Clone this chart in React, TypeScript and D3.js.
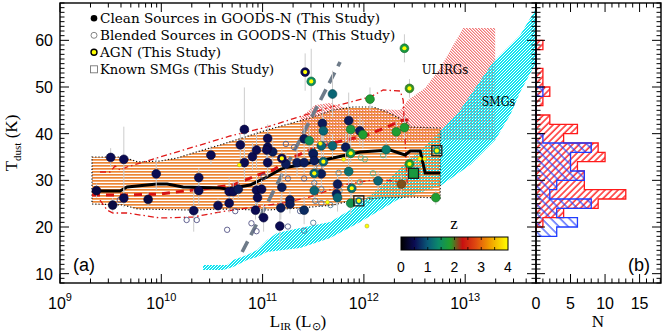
import React from "react";
import * as d3 from "d3";

// [log10 L_IR, T_dust (K), z, dT]
const cleanSources = [
  [9.36, 27.8, 0.4, 1.5], [9.5, 34.9, 0.5, 2], [9.52, 24.7, 0.4, 1.5], [9.63, 34.5, 0.5, 7],
  [9.63, 26.2, 0.5, 2], [9.87, 25.9, 0.4, 1.5], [9.95, 31.4, 0.5, 3.5], [10.32, 23.5, 0.5, 4.5],
  [10.37, 30.6, 0.5, 2], [10.37, 27.8, 0.5, 3], [10.49, 35.4, 0.5, 2], [10.56, 24.6, 0.5, 1.5],
  [10.67, 27.6, 0.5, 3], [10.67, 25.1, 0.5, 2], [10.71, 27.6, 0.5, 2], [10.76, 28.1, 0.6, 2],
  [10.82, 33.8, 0.5, 4], [10.9, 35.1, 0.5, 3], [10.94, 36.5, 0.5, 4], [11.1, 36.1, 0.6, 3],
  [11.05, 33.8, 0.5, 3], [11.23, 33.5, 0.6, 2.5], [11.34, 33.8, 0.6, 3], [11.41, 33.8, 0.6, 2.5],
  [11.58, 31.4, 0.6, 3], [11.74, 29.2, 0.6, 2], [11.73, 27.1, 0.6, 2.5], [10.94, 27.9, 0.5, 3],
  [10.99, 28.1, 0.5, 2], [10.95, 26.3, 0.5, 2], [11.19, 28.5, 0.6, 3], [11.27, 25.8, 0.6, 2],
  [11.27, 24.9, 0.6, 2], [11.18, 24.1, 0.6, 2.5], [10.93, 23.6, 0.5, 2], [11.01, 22.0, 0.5, 3],
  [11.17, 20.2, 0.5, 4], [11.41, 23.6, 0.7, 3], [11.51, 27.8, 1.1, 2.5], [11.5, 35.8, 1.1, 2.5],
  [10.82, 40.9, 0.5, 9], [10.78, 37.6, 0.5, 3], [11.05, 39.0, 0.5, 3], [11.05, 37.1, 0.5, 2.5],
  [11.04, 36.5, 0.5, 2], [11.69, 48.5, 1.1, 5], [12.06, 47.4, 1.8, 2.5], [11.59, 42.2, 0.6, 4],
  [11.6, 40.6, 1.1, 3], [11.85, 42.8, 0.6, 6], [11.87, 40.9, 1.7, 3], [11.96, 40.6, 0.6, 3],
  [11.99, 39.8, 1.8, 3], [11.41, 38.9, 0.6, 3], [11.46, 38.5, 1.5, 2.5], [11.58, 37.4, 1.1, 3],
  [11.5, 35.6, 0.6, 2], [11.69, 37.4, 1.1, 2.5], [11.82, 37.1, 0.6, 3], [11.85, 31.9, 1.2, 3],
  [11.74, 26.3, 1.1, 3], [11.87, 25.1, 1.6, 2.5], [12.4, 41.3, 1.8, 2.5], [12.32, 40.4, 1.8, 2],
  [12.22, 36.6, 1.3, 2], [12.14, 29.9, 1.1, 2], [12.37, 29.2, 2.1, 2], [12.71, 26.3, 1.8, 1.5],
  [11.51, 34.2, 0.6, 2],
];

// [log10 L_IR, T_dust, z, dT]
const agnSources = [
  [11.19, 34.7, 0.5, 2], [11.6, 34.0, 1.1, 2], [11.51, 31.5, 1.1, 2.5], [11.88, 28.3, 1.2, 2],
  [11.42, 53.2, 0.5, 4], [11.48, 51.2, 1.5, 7], [12.4, 58.3, 1.7, 3], [12.45, 49.7, 1.9, 2],
  [12.45, 33.5, 1.8, 2], [11.87, 35.8, 1.6, 2],
];

// [log10 L_IR, T_dust, z, isAGN]
const knownSmgs = [
  [11.95, 25.6, 1.1, 1], [12.72, 36.35, 1.4, 1], [12.49, 31.5, 1.7, 0],
];

// [log10 L_IR, T_dust, z]
const blendedSources = [
  [9.59, 25.8, 0.5], [10.25, 21.5, 0.5], [10.35, 21.5, 0.5], [10.65, 19.4, 0.5], [10.89, 20.8, 0.5],
  [10.94, 19.1, 0.5], [11.01, 30.8, 0.5], [11.25, 30.4, 0.6], [11.41, 30.4, 0.6], [11.56, 32.8, 0.8],
  [11.51, 29.4, 0.8], [11.58, 28.1, 0.8], [11.52, 25.6, 0.8], [11.58, 25.1, 0.8], [11.67, 24.7, 0.9],
  [10.73, 23.4, 0.5], [11.37, 23.4, 0.6], [11.25, 20.1, 0.6], [11.41, 19.2, 0.8], [11.5, 20.9, 0.9],
  [11.75, 31.6, 1.0], [11.96, 29.6, 1.3], [11.76, 27.8, 1.0], [11.97, 34.9, 1.5], [12.01, 34.5, 1.5],
  [12.05, 25.8, 1.4], [11.23, 37.8, 0.6], [11.31, 37.1, 0.6], [11.62, 37.8, 0.8], [12.09, 31.5, 1.5],
  [12.19, 35.4, 1.5],
];

// blended AGN [log10 L_IR, T_dust]
const blendedAgn = [
  [10.77, 33.3], [11.8, 34.5], [11.64, 25.3], [12.03, 20.2], [11.57, 37.9], [12.55, 34.6], [12.6, 34.6],
];

// local relation: median (black), mean (red dashed), envelopes (red dash-dot)
const medianCurve = [
  [9.316, 27.71], [9.593, 27.71], [9.662, 28.57], [9.958, 29.21], [10.057, 29.21], [10.215, 28.57],
  [10.58, 28.36], [10.649, 28.14], [10.877, 29.0], [11.044, 30.71], [11.202, 32.64], [11.37, 33.28],
  [11.696, 34.78], [11.963, 36.07], [12.259, 36.5], [12.407, 35.43], [12.457, 36.28], [12.556, 36.28],
  [12.605, 31.57], [12.753, 31.57],
];
const meanCurve = [
  [9.316, 26.86], [9.662, 26.86], [9.988, 27.07], [10.314, 27.93], [10.412, 28.14], [10.709, 29.0],
  [10.956, 31.14], [11.104, 32.21], [11.301, 35.0], [11.469, 36.5], [11.696, 38.0], [12.032, 39.71],
  [12.23, 41.43], [12.388, 42.93], [12.457, 42.93],
];
const upperEnvelope = [
  [9.395, 31.79], [9.494, 31.79], [9.543, 33.07], [9.593, 32.21], [9.662, 32.86], [9.988, 35.0],
  [10.383, 37.57], [10.679, 39.5], [11.044, 41.43], [11.637, 45.5], [12.062, 47.86], [12.19, 49.35],
  [12.358, 49.14], [12.388, 47.21], [12.407, 38.64], [12.427, 29.43],
];
const lowerEnvelope = [
  [9.395, 25.78], [9.464, 23.64], [9.523, 23.0], [9.662, 23.0], [9.988, 21.93], [10.314, 22.14],
  [10.58, 23.21], [10.709, 23.64], [11.202, 25.14], [11.469, 26.43], [11.795, 29.0], [12.131, 30.28],
  [12.427, 29.43],
];
const localRegion = [
  [9.316, 35.0], [9.622, 35.0], [9.77, 33.93], [9.988, 34.14], [10.156, 34.78], [10.314, 35.86],
  [10.58, 37.57], [11.044, 40.79], [11.469, 43.36], [11.696, 45.07], [11.894, 45.71], [12.091, 45.71],
  [12.23, 44.64], [12.328, 43.57], [12.427, 42.28], [12.457, 41.43], [12.753, 41.21], [12.753, 26.21],
  [12.457, 26.43], [12.16, 26.21], [11.894, 25.78], [11.696, 24.71], [11.37, 24.07], [11.044, 23.64],
  [10.58, 23.86], [10.314, 23.64], [9.77, 23.86], [9.622, 24.71], [9.316, 24.93],
];
const ulirgRegion = [
  [11.37, 43.36], [11.519, 46.14], [11.667, 46.57], [11.815, 45.5], [12.358, 45.07], [12.437, 47.21],
  [12.605, 49.78], [12.753, 54.07], [12.98, 62.64], [13.296, 62.64], [13.296, 38.64], [11.37, 38.0],
];
const smgRegion = [
  [10.412, 11.86], [10.649, 11.86], [10.709, 12.93], [10.847, 14.0], [10.946, 15.07], [11.044, 17.21],
  [11.143, 18.71], [11.37, 19.79], [11.667, 21.07], [11.864, 23.64], [12.062, 26.64], [12.358, 32.64],
  [12.723, 39.71], [12.951, 45.07], [13.277, 55.35], [13.543, 61.14], [13.701, 66.92],
  [13.701, 55.35], [13.543, 48.93], [13.444, 44.0], [13.296, 38.64], [13.049, 33.28], [12.753, 28.78],
  [12.328, 25.78], [11.963, 21.07], [11.667, 17.64], [11.37, 15.5], [11.202, 15.07], [11.044, 14.64],
  [10.946, 13.57], [10.847, 12.93], [10.709, 11.43], [10.61, 10.79], [10.412, 10.79],
];
const selectionLine = [[10.798, 14.64], [11.765, 55.35]];

// histogram, 2 K bins (lower edges)
const histBins = [18, 20, 22, 24, 26, 28, 30, 32, 34, 36, 38, 40, 42, 44, 46, 48, 50, 52, 54, 56, 58];
const histRed = [0, 1, 4, 9, 13, 7, 7, 6, 10, 9, 4, 6, 2, 0, 1, 2, 1, 1, 0, 0, 1];
const histBlue = [3, 6, 3, 8, 2, 3, 7, 5, 5, 8, 1, 0, 0, 0, 0, 1, 0, 0, 0, 0, 0];

const xTickExps = [9, 10, 11, 12, 13];
const yTickLabels = [10, 20, 30, 40, 50, 60];
const nTickLabels = [0, 5, 10, 15];
const zTickLabels = [0, 1, 2, 3, 4];
const legendLabels = [
  "Clean Sources in GOODS-N (This Study)",
  "Blended Sources in GOODS-N (This Study)",
  "AGN (This Study)",
  "Known SMGs (This Study)",
];

const zStops = [0, 0.5, 1.0, 1.4, 1.85, 2.3, 2.8, 3.3, 4.0];
const zColors = ["#000000", "#0b0b52", "#0a5a78", "#0b8a6a", "#22a02a", "#c81010", "#e04a10", "#f09a00", "#ffff00"];

const W = 668;
const H = 334;
const L = 60, R = 536, T = 3, B = 283, HR = 661;

export default function App() {
  const x = d3.scaleLog().domain([1e9, 5e13]).range([L, R]);
  const y = d3.scaleLinear().domain([8, 68]).range([B, T]);
  const n = d3.scaleLinear().domain([0, 18.1]).range([R, HR]);
  const zc = d3.scaleLinear<string>().domain(zStops).range(zColors).clamp(true);
  const zb = d3.scaleLinear().domain([0, 4]).range([401, 508]);

  const px = (d: number[]) => x(Math.pow(10, d[0]));
  const py = (d: number[]) => y(d[1]);
  const line = d3.line<number[]>().x(px).y(py);
  const area = (pts: number[][]) => line(pts) + "Z";

  const stepPath = (counts: number[]) => {
    const pts: number[][] = [[0, histBins[0]]];
    counts.forEach((c, i) => {
      pts.push([c, histBins[i]]);
      pts.push([c, histBins[i] + 2]);
    });
    pts.push([0, histBins[histBins.length - 1] + 2]);
    return d3.line<number[]>().x((d) => n(d[0])).y((d) => y(d[1]))(pts) as string;
  };

  const xt = x.ticks();
  const isMajor = (v: number) => Math.abs(Math.log10(v) - Math.round(Math.log10(v))) < 1e-6;
  const yt = y.ticks(60);
  const nt = n.ticks(18);

  const sans = "'Liberation Sans', Arial, sans-serif";
  const serif = "'DejaVu Serif', serif";
  const tserif = "'Liberation Serif', 'Times New Roman', serif";

  const dark = (c: string) => d3.color(c)!.darker(1.2).formatHex();
  const light = (c: string) => d3.interpolateRgb(c, "#ffffff")(0.3);

  return (
    <svg width={W} height={H} style={{ position: "absolute", left: 0, top: 0, background: "#fff" }}>
      <defs>
        <clipPath id="mainClip">
          <rect x={L} y={T} width={R - L} height={B - T} />
        </clipPath>
        <pattern id="orangeHatch" width="6" height="3" patternUnits="userSpaceOnUse">
          <rect x="0" y="0" width="6" height="1.7" fill="#ec8635" />
        </pattern>
        <pattern id="pinkHatch" width="3" height="3" patternUnits="userSpaceOnUse">
          <rect x="0" y="0" width="1.5" height="1" fill="#f27878" />
          <rect x="1" y="1" width="1.5" height="1" fill="#f27878" />
          <rect x="2" y="2" width="1" height="1" fill="#f27878" />
          <rect x="0" y="2" width="0.5" height="1" fill="#f27878" />
        </pattern>
        <pattern id="cyanHatch" width="3" height="3" patternUnits="userSpaceOnUse">
          <rect x="1" y="0" width="2" height="1" fill="#10e4f0" />
          <rect x="0" y="1" width="2" height="1" fill="#10e4f0" />
          <rect x="0" y="2" width="1" height="1" fill="#10e4f0" />
          <rect x="2" y="2" width="1" height="1" fill="#10e4f0" />
        </pattern>
        <pattern id="redHatch" width="4.6" height="4.6" patternUnits="userSpaceOnUse" patternTransform="rotate(45)">
          <line x1="1" y1="0" x2="1" y2="4.6" stroke="#ff1a1a" strokeWidth="1.4" />
        </pattern>
        <pattern id="blueHatch" width="6.5" height="6.5" patternUnits="userSpaceOnUse" patternTransform="rotate(-45)">
          <line x1="1" y1="0" x2="1" y2="6.5" stroke="#1f3cff" strokeWidth="1.1" />
        </pattern>
        <linearGradient id="zGrad" x1="0" x2="1" y1="0" y2="0">
          {d3.range(0, 4.01, 0.1).map((v) => (
            <stop key={v} offset={`${(v / 4) * 100}%`} stopColor={zc(v)} />
          ))}
        </linearGradient>
      </defs>

      <g clipPath="url(#mainClip)">
        <path d={area(ulirgRegion)} fill="url(#pinkHatch)" />
        <path d={area(smgRegion)} fill="url(#cyanHatch)" />
        <path d={area(localRegion)} fill="url(#orangeHatch)" stroke="#111" strokeWidth={1.2} strokeDasharray="1.2,2" />

        <path d={line(upperEnvelope)!} fill="none" stroke="#e01818" strokeWidth={1.3} strokeDasharray="6,3,1.5,3" />
        <path d={line(lowerEnvelope)!} fill="none" stroke="#e01818" strokeWidth={1.3} strokeDasharray="6,3,1.5,3" />
        <path d={line(meanCurve)!} fill="none" stroke="#d81414" strokeWidth={3} strokeDasharray="8,6" />
        <path d={line(medianCurve)!} fill="none" stroke="#000" strokeWidth={3} />
        <path d={line(selectionLine)!} fill="none" stroke="#6e7b89" strokeWidth={3.6} strokeDasharray="12,7" />

        {[...cleanSources, ...agnSources].map((d, i) => (
          <line key={"e" + i} x1={px(d)} x2={px(d)} y1={y(d[1] - d[3])} y2={y(d[1] + d[3])} stroke="#cccccc" strokeWidth={1} />
        ))}

        {blendedSources.map((d, i) => (
          <circle key={"b" + i} cx={px(d)} cy={py(d)} r={2.7} fill="none" stroke={light(zc(d[2]))} strokeWidth={0.9} />
        ))}
        {cleanSources.map((d, i) => (
          <circle key={"c" + i} cx={px(d)} cy={py(d)} r={4.4} fill={zc(d[2])} stroke={dark(zc(d[2]))} strokeWidth={0.6} />
        ))}
        {agnSources.map((d, i) => (
          <g key={"a" + i}>
            <circle cx={px(d)} cy={py(d)} r={4.4} fill={zc(d[2])} stroke={dark(zc(d[2]))} strokeWidth={0.6} />
            <circle cx={px(d)} cy={py(d)} r={2.1} fill="#ffff00" />
          </g>
        ))}
        {knownSmgs.map((d, i) => (
          <g key={"s" + i}>
            <rect x={px(d) - 5} y={py(d) - 5} width={10} height={10} fill={d[3] ? "none" : zc(d[2])} stroke="#1a1a1a" strokeWidth={1.3} />
            <circle cx={px(d)} cy={py(d)} r={3.6} fill={zc(d[2])} />
            {d[3] ? <circle cx={px(d)} cy={py(d)} r={2.1} fill="#ffff00" /> : null}
          </g>
        ))}
        {blendedAgn.map((d, i) => (
          <circle key={"y" + i} cx={px(d)} cy={py(d)} r={2} fill="#ffff00" stroke="#9a9a30" strokeWidth={0.5} />
        ))}
      </g>

      {/* labels inside main panel */}
      <text x={421.7} y={74} fontFamily={serif} fontSize={13} textLength={46.5} lengthAdjust="spacingAndGlyphs">ULIRGs</text>
      <text x={481.7} y={106} fontFamily={serif} fontSize={13} textLength={33.5} lengthAdjust="spacingAndGlyphs">SMGs</text>
      <text x={73} y={271} fontFamily={sans} fontSize={18}>(a)</text>

      {/* legend */}
      {legendLabels.map((lab, i) => {
        const cy = 18.3 + i * 17;
        return (
          <g key={lab}>
            {i === 0 && <circle cx={94} cy={cy} r={3.3} fill="#000" />}
            {i === 1 && <circle cx={94} cy={cy} r={3} fill="none" stroke="#777" strokeWidth={0.9} />}
            {i === 2 && <circle cx={94} cy={cy} r={3} fill="#ffff00" stroke="#000" strokeWidth={1.4} />}
            {i === 3 && <rect x={90.5} y={cy - 3.5} width={7} height={7} fill="none" stroke="#777" strokeWidth={0.9} />}
            <text x={100} y={cy + 4.5} fontFamily={serif} fontSize={12.5} textLength={lab.length * 7.57} lengthAdjust="spacingAndGlyphs">{lab}</text>
          </g>
        );
      })}

      {/* colorbar */}
      <rect x={zb(0)} y={237} width={zb(4) - zb(0)} height={13} fill="url(#zGrad)" stroke="#000" strokeWidth={1} />
      {d3.range(0.5, 4, 0.5).map((v) => (
        <g key={"zt" + v}>
          <line x1={zb(v)} x2={zb(v)} y1={237} y2={240} stroke="#000" strokeWidth={0.8} />
          <line x1={zb(v)} x2={zb(v)} y1={250} y2={247} stroke="#000" strokeWidth={0.8} />
        </g>
      ))}
      {zTickLabels.map((v) => (
        <text key={"zl" + v} x={zb(v)} y={272} textAnchor="middle" fontFamily={sans} fontSize={14}>{v}</text>
      ))}
      <text x={454} y={229} textAnchor="middle" fontFamily={tserif} fontSize={17}>z</text>

      {/* histogram */}
      <path d={stepPath(histRed)} fill="url(#redHatch)" />
      <path d={stepPath(histBlue)} fill="url(#blueHatch)" />
      <path d={stepPath(histRed)} fill="none" stroke="#ff1a1a" strokeWidth={1.3} />
      <path d={stepPath(histBlue)} fill="none" stroke="#1f3cff" strokeWidth={1.3} />
      <text x={628} y={271} fontFamily={sans} fontSize={18}>(b)</text>

      {/* frames */}
      <rect x={L} y={T} width={R - L} height={B - T} fill="none" stroke="#000" strokeWidth={1.4} />
      <rect x={R} y={T} width={HR - R} height={B - T} fill="none" stroke="#000" strokeWidth={1.4} />

      {/* x ticks main */}
      {xt.map((v, i) => {
        const len = isMajor(v) ? 9 : 4.5;
        return (
          <g key={"xt" + i}>
            <line x1={x(v)} x2={x(v)} y1={B} y2={B - len} stroke="#000" strokeWidth={1} />
            <line x1={x(v)} x2={x(v)} y1={T} y2={T + len} stroke="#000" strokeWidth={1} />
          </g>
        );
      })}
      {/* y ticks main + hist */}
      {yt.map((v) => {
        const len = v % 10 === 0 ? 9 : 4.5;
        return (
          <g key={"yt" + v}>
            <line x1={L} x2={L + len} y1={y(v)} y2={y(v)} stroke="#000" strokeWidth={1} />
            <line x1={R} x2={R - len} y1={y(v)} y2={y(v)} stroke="#000" strokeWidth={1} />
            <line x1={R} x2={R + len} y1={y(v)} y2={y(v)} stroke="#000" strokeWidth={1} />
            <line x1={HR} x2={HR - len} y1={y(v)} y2={y(v)} stroke="#000" strokeWidth={1} />
          </g>
        );
      })}
      {/* n ticks */}
      {nt.map((v) => {
        const len = v % 5 === 0 ? 9 : 4.5;
        return (
          <g key={"nt" + v}>
            <line x1={n(v)} x2={n(v)} y1={B} y2={B - len} stroke="#000" strokeWidth={1} />
            <line x1={n(v)} x2={n(v)} y1={T} y2={T + len} stroke="#000" strokeWidth={1} />
          </g>
        );
      })}

      {/* tick labels */}
      {yTickLabels.map((v) => (
        <text key={"yl" + v} x={53} y={y(v) + 6} textAnchor="end" fontFamily={sans} fontSize={16}>{v}</text>
      ))}
      {xTickExps.map((e) => (
        <text key={"xl" + e} x={x(Math.pow(10, e))} y={309} textAnchor="middle" fontFamily={sans} fontSize={16}>
          10<tspan fontSize={11} dy={-8}>{e}</tspan>
        </text>
      ))}
      {nTickLabels.map((v) => (
        <text key={"nl" + v} x={n(v)} y={309} textAnchor="middle" fontFamily={sans} fontSize={16}>{v}</text>
      ))}

      {/* axis titles */}
      <text transform="translate(17,143) rotate(-90)" textAnchor="middle" fontFamily={tserif} fontSize={17}>
        T<tspan fontSize={11} dy={4}>dust</tspan><tspan dy={-4}> (K)</tspan>
      </text>
      <text x={298} y={327} textAnchor="middle" fontFamily={tserif} fontSize={17}>
        L<tspan fontSize={11} dy={3}>IR</tspan><tspan dy={-3}> (L</tspan><tspan fontSize={11} dy={3}>⊙</tspan><tspan dy={-3}>)</tspan>
      </text>
      <text x={598} y={327} textAnchor="middle" fontFamily={tserif} fontSize={17}>N</text>
    </svg>
  );
}
